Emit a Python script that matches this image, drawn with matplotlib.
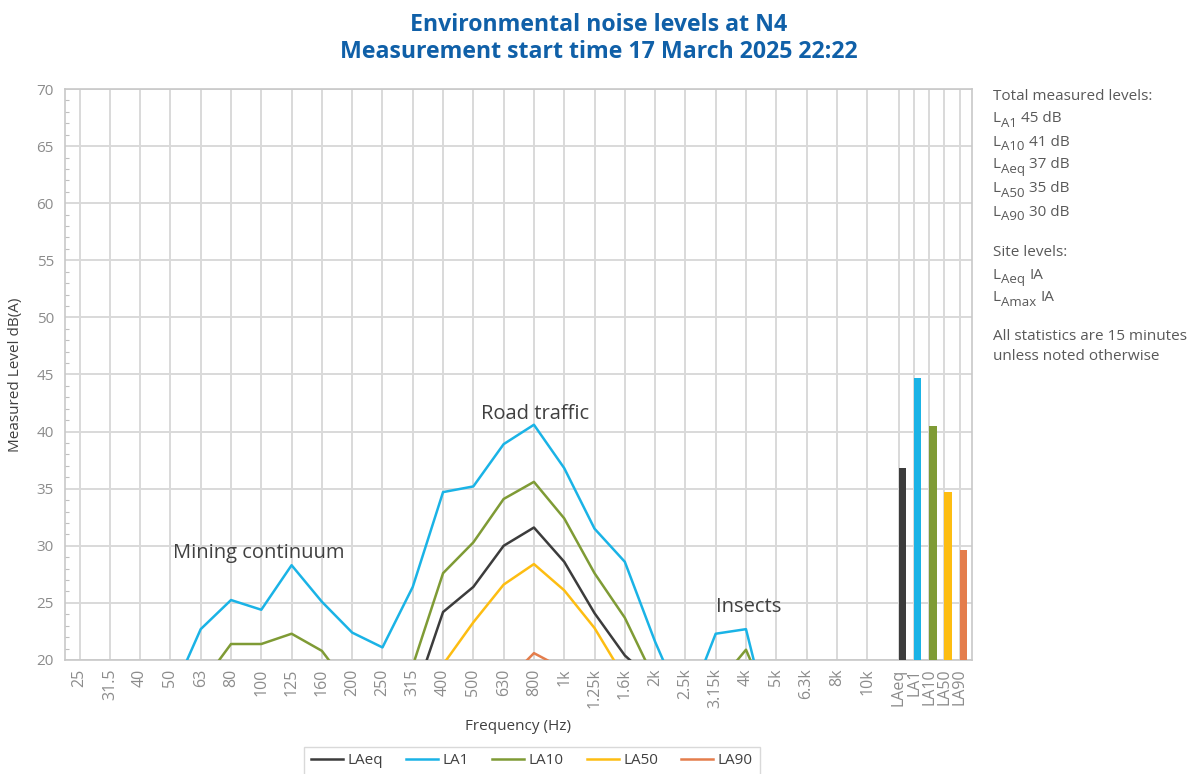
import numpy as np
import matplotlib
matplotlib.use("Agg")
import matplotlib.pyplot as plt

plt.rcParams['font.family'] = ['Open Sans', 'DejaVu Sans']

freqs = ["25", "31.5", "40", "50", "63", "80", "100", "125", "160", "200", "250",
         "315", "400", "500", "630", "800", "1k", "1.25k", "1.6k", "2k", "2.5k",
         "3.15k", "4k", "5k", "6.3k", "8k", "10k"]
nan = np.nan
LAeq = [nan, nan, nan, nan, nan, nan, nan, nan, nan, nan, nan,
        16.4, 24.2, 26.4, 30.0, 31.6, 28.6, 24.1, 20.4, 18.0, nan,
        nan, nan, nan, nan, nan, nan]
LA1 = [nan, nan, nan, 16.7, 22.7, 25.25, 24.4, 28.3, 25.1, 22.4, 21.1,
       26.4, 34.7, 35.2, 38.9, 40.6, 36.8, 31.5, 28.6, 21.6, 15.5,
       22.3, 22.7, 12.1, nan, nan, nan]
LA10 = [nan, nan, nan, nan, 17.8, 21.4, 21.4, 22.3, 20.8, 17.3, nan,
        19.5, 27.6, 30.3, 34.1, 35.6, 32.4, 27.6, 23.7, 18.2, nan,
        17.7, 20.9, 14.7, nan, nan, nan]
LA50 = [nan, nan, nan, nan, nan, nan, nan, nan, nan, nan, nan,
        nan, 19.6, 23.3, 26.6, 28.4, 26.1, 22.8, 18.4, nan, nan,
        nan, nan, nan, nan, nan, nan]
LA90 = [nan, nan, nan, nan, nan, nan, nan, nan, nan, nan, nan,
        nan, nan, nan, 17.9, 20.6, 19.2, nan, nan, nan, nan,
        nan, nan, nan, nan, nan, nan]

total_labels = ["LAeq", "LA1", "LA10", "LA50", "LA90"]
total_values = [36.8, 44.7, 40.5, 34.7, 29.6]

series_names = ["LAeq", "LA1", "LA10", "LA50", "LA90"]
colors = ["#3c3c3c", "#1ab3e6", "#7f9b35", "#fdbd12", "#e47d4c"]

fig = plt.figure(figsize=(11.97, 7.74), dpi=100)
ax = fig.add_axes([0.0543, 0.1473, 0.7577, 0.7377])

x = np.arange(len(freqs))
series = [LAeq, LA1, LA10, LA50, LA90]
for name, vals, c in zip(series_names, series, colors):
    ax.plot(x, vals, color=c, lw=1.8, label=name, zorder=3)

bar_grid = len(freqs) + 0.5 * np.arange(len(total_labels))
ax.bar(bar_grid + 0.17, total_values, width=0.24, bottom=0,
       color=colors, zorder=3)

ax.set_ylim(20, 70)
ax.set_xlim(-0.48, 29.46)
ax.set_yticks(np.arange(20, 71, 5))
ax.set_yticks(np.arange(20, 71, 1), minor=True)
ticks = list(x) + list(bar_grid + 0.05)
ax.set_xticks(ticks)
ax.set_xticklabels(freqs + total_labels, rotation=90, va='top', ha='center')
ax.grid(True, which='major', color='#d9d9d9', lw=1.4, zorder=0)
ax.tick_params(axis='x', length=0, pad=6, labelsize=11.5, labelcolor='#8c8c8c')
ax.tick_params(axis='y', which='major', length=0, pad=8, labelsize=11, labelcolor='#8c8c8c')
ax.tick_params(axis='y', which='minor', direction='in', length=3, color='#bfbfbf', width=0.8)
for s in ax.spines.values():
    s.set_color('#c8c8c8')
    s.set_linewidth(1.2)

ax.set_ylabel("Measured Level dB(A)", fontsize=11, color='#404040', labelpad=10)
ax.set_xlabel("Frequency (Hz)", fontsize=11, color='#404040', labelpad=8)

fig.text(0.5, 0.983, "Environmental noise levels at N4\nMeasurement start time 17 March 2025 22:22",
         ha='center', va='top', fontsize=16.7, fontweight='bold', color='#1060a8',
         linespacing=1.15)

ann_kw = dict(fontsize=14.5, color='#404040', ha='left', va='center')
ax.text(3.1, 29.4, "Mining continuum", **ann_kw)
ax.text(13.25, 41.5, "Road traffic", **ann_kw)
ax.text(21.0, 24.6, "Insects", **ann_kw)

side_color = '#595959'
side_x = 993 / 1197
plain_lines = [("Total measured levels:", 97), ("Site levels:", 253),
               ("All statistics are 15 minutes", 337), ("unless noted otherwise", 357)]
for t, yy in plain_lines:
    fig.text(side_x, 1 - yy / 774, t, fontsize=11, color=side_color, ha='left', va='center')

sub_lines = [("A1", "45 dB", 119), ("A10", "41 dB", 142), ("Aeq", "37 dB", 165),
             ("A50", "35 dB", 189), ("A90", "30 dB", 212),
             ("Aeq", "IA", 275), ("Amax", "IA", 298)]
for sub, rest, yy in sub_lines:
    t0 = fig.text(side_x, 1 - yy / 774, "L", fontsize=11, color=side_color,
                  ha='left', va='center')
    t1 = fig.text(0, 0, sub, fontsize=9.5, color=side_color)
    t1.set_transform(matplotlib.transforms.IdentityTransform())
    a1 = fig.add_artist(matplotlib.text.Annotation(
        sub, xy=(1, 0), xycoords=t0, xytext=(0.2, -2.5), textcoords='offset points',
        fontsize=9.5, color=side_color, ha='left', va='bottom'))
    t1.remove()
    fig.add_artist(matplotlib.text.Annotation(
        rest, xy=(1, 0), xycoords=(a1, t0), xytext=(3.0, 0), textcoords='offset points',
        fontsize=11, color=side_color, ha='left', va='bottom'))

leg = fig.legend(loc='center', bbox_to_anchor=(532 / 1197, 1 - 761 / 774), ncol=5,
                 frameon=True, fontsize=11, handlelength=2.1, columnspacing=1.5,
                 handletextpad=0.3, borderpad=0.45, fancybox=False, edgecolor='#d0d0d0')
for t in leg.get_texts():
    t.set_color('#404040')

fig.savefig("out.png", dpi=100)
